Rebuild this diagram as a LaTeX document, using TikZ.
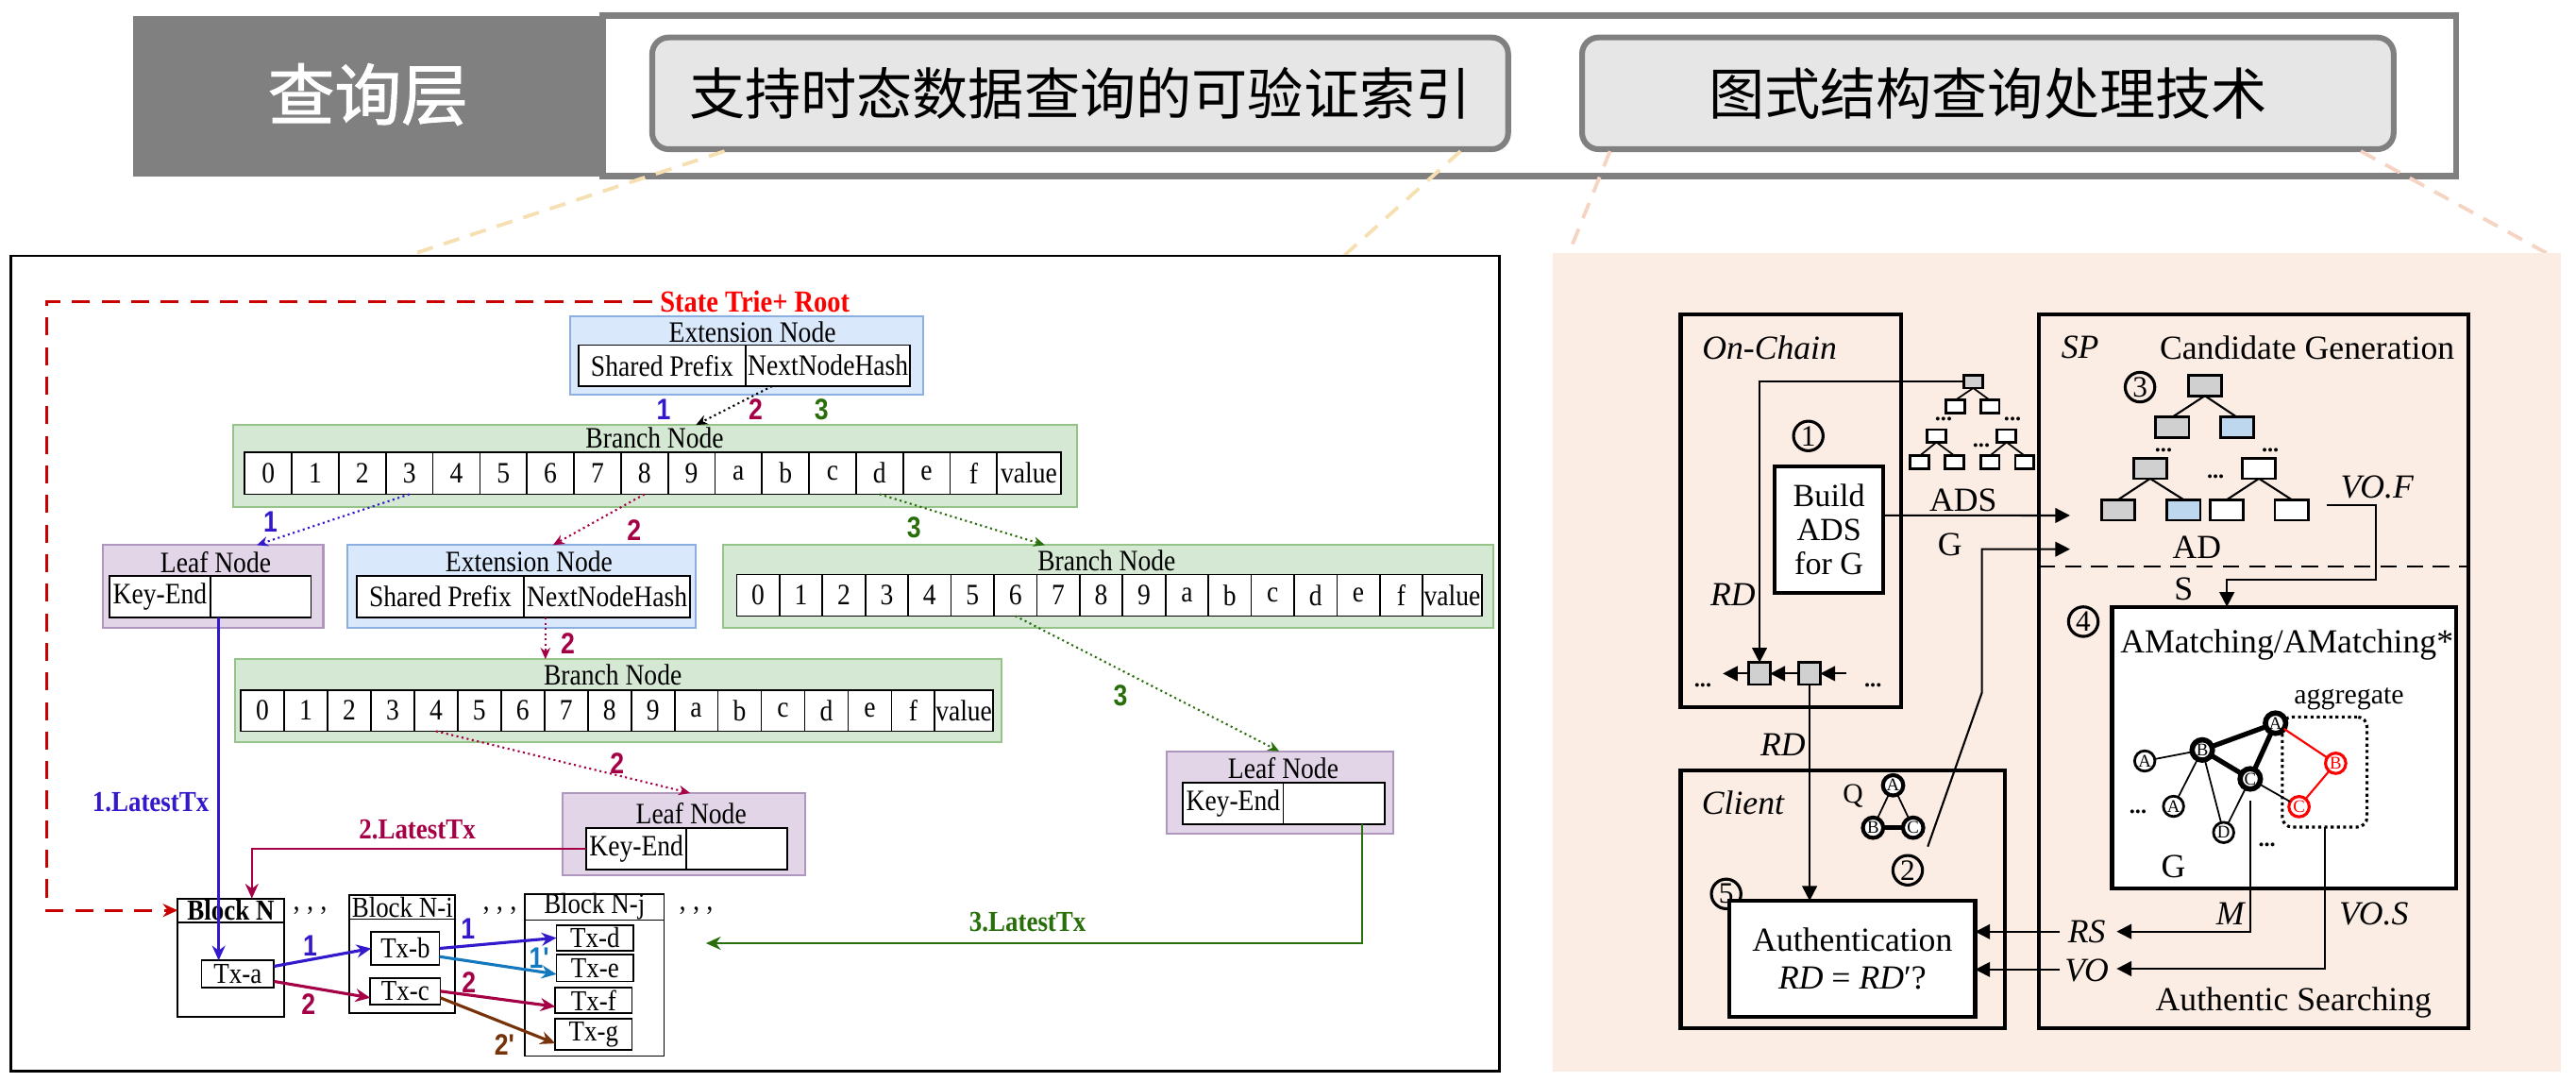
\documentclass[tikz,border=0pt]{standalone}
\usepackage{fontspec}
\setmainfont{Liberation Serif}
\setsansfont{Liberation Sans}
\newfontfamily\lserif{Liberation Serif}[FakeStretch=0.88]
\newfontfamily\lsans{Liberation Sans}[FakeStretch=0.85]
\newfontfamily\cjk{Noto Sans CJK SC}
\newfontfamily\cjkb{Noto Sans CJK SC}[FakeBold=1.5]
\usetikzlibrary{arrows.meta,fit}
\definecolor{hdrgray}{RGB}{128,128,128}
\definecolor{hboxfill}{RGB}{230,230,230}
\definecolor{wheatc}{RGB}{246,224,178}
\definecolor{salmonc}{RGB}{246,212,196}
\definecolor{peach}{RGB}{252,237,228}
\definecolor{bfill}{RGB}{218,232,252}
\definecolor{bdraw}{RGB}{140,175,225}
\definecolor{gfill}{RGB}{213,232,212}
\definecolor{gdraw}{RGB}{150,195,135}
\definecolor{pfill}{RGB}{225,213,231}
\definecolor{pdraw}{RGB}{175,150,190}
\definecolor{tblue}{RGB}{51,25,204}
\definecolor{tred}{RGB}{165,0,70}
\definecolor{tgreen}{RGB}{40,110,10}
\definecolor{tteal}{RGB}{20,120,190}
\definecolor{tbrown}{RGB}{120,50,10}
\definecolor{dred}{RGB}{200,0,0}
\definecolor{tgray}{RGB}{208,208,208}
\definecolor{tlblue}{RGB}{189,215,238}
\newcommand\LFont{\lserif\fontsize{9}{10.8}\selectfont}
\newcommand\RFont{\fontsize{10.25}{12.3}\selectfont}
\newcommand\btable[6]{%
  \foreach \i/\lbl in {0/0,1/1,2/2,3/3,4/4,5/5,6/6,7/7,8/8,9/9,10/a,11/b,12/c,13/d,14/e,15/f}{%
    \node[cellbox, minimum width=#4*0.5pt, minimum height=#6*0.5pt] (#1c\i) at ({#2+(\i+0.5)*#4},#3) {\lbl};}
  \node[cellbox, minimum width=#5*0.5pt, minimum height=#6*0.5pt] (#1cv) at ({#2+16*#4+0.5*#5},#3) {value};
}
\begin{document}
\begin{tikzpicture}[x=0.5pt,y=-0.5pt,
  every node/.style={inner sep=0pt, outer sep=0pt},
  cellbox/.style={draw=black, fill=white, line width=0.5pt, font=\LFont},
  gbox/.style={draw=gdraw, fill=gfill, line width=0.6pt},
  bbox/.style={draw=bdraw, fill=bfill, line width=0.6pt},
  pbox/.style={draw=pdraw, fill=pfill, line width=0.6pt},
  ttl/.style={font=\LFont},
  num/.style={font=\lsans\bfseries\fontsize{9}{10}\selectfont},
  latlab/.style={font=\lserif\bfseries\fontsize{8.8}{10}\selectfont},
  dotarr/.style={densely dotted, line width=0.6pt, -{Stealth[length=3.5pt,width=3pt]}},
  txarr/.style={line width=0.9pt, -{Stealth[length=4.5pt,width=4pt]}},
  latest/.style={line width=0.7pt, -{Stealth[length=4.5pt,width=4pt]}},
  txbox/.style={draw=black, fill=white, line width=0.5pt, font=\lserif\fontsize{8.8}{10}\selectfont},
  blk/.style={draw=black, fill=white, line width=0.5pt, font=\lserif\fontsize{8.8}{10}\selectfont},
  rbox/.style={draw=black, line width=1.2pt},
  rt/.style={font=\RFont},
  rit/.style={font=\RFont\itshape},
  rarr/.style={line width=0.6pt, -{Triangle[length=4.5pt,width=4.5pt]}},
  sq/.style={draw=black, line width=0.8pt, fill=white},
  cnum/.style={circle, draw=black, line width=0.9pt, minimum size=9pt, font=\fontsize{9}{9}\selectfont},
  gn/.style={circle, draw=black, line width=0.8pt, fill=white, minimum size=6.2pt, font=\fontsize{5.4}{5.5}\selectfont},
  gnr/.style={gn, draw=red, text=red, line width=0.9pt},
  dots/.style={font=\bfseries\fontsize{7}{7}\selectfont},
]
\useasboundingbox (0,0) rectangle (1568,658);

% ---------- header ----------
\draw[hdrgray, line width=2pt] (367,9.7) rectangle (1495,107);
\fill[hdrgray] (81,9.5) rectangle (367,107.5);
\node[font=\cjkb\fontsize{20.3}{22}\selectfont, text=white] (qlayer) at (224,57.5) {查询层};
\node[draw=hdrgray, fill=hboxfill, line width=1.75pt, rounded corners=5pt, minimum width=260.5pt, minimum height=34pt,
      font=\cjk\fontsize{17}{18}\selectfont] (h1) at (657.5,56.8) {支持时态数据查询的可验证索引};
\node[draw=hdrgray, fill=hboxfill, line width=1.75pt, rounded corners=5pt, minimum width=247pt, minimum height=34pt,
      font=\cjk\fontsize{17}{18}\selectfont] (h2) at (1210,56.8) {图式结构查询处理技术};

% connectors header -> panels
\coordinate (y1a) at (441,92); \coordinate (y1b) at (248,155.7);
\coordinate (y2a) at (889,92); \coordinate (y2b) at (818,155.7);
\coordinate (s1a) at (980,92); \coordinate (s1b) at (955,154);
\coordinate (s2a) at (1437,92); \coordinate (s2b) at (1550,154);
\draw[wheatc, line width=1.1pt, dash pattern=on 5pt off 3.5pt] (y1a) -- (y1b);
\draw[wheatc, line width=1.1pt, dash pattern=on 5pt off 3.5pt] (y2a) -- (y2b);
\draw[salmonc, line width=1.1pt, dash pattern=on 5pt off 3.5pt] (s1a) -- (s1b);
\draw[salmonc, line width=1.1pt, dash pattern=on 5pt off 3.5pt] (s2a) -- (s2b);

% ---------- panels ----------
\node[draw=black, line width=0.8pt, fill=white, fit={(6.6,155.7) (912.5,652)}] (lp) {};
\node[fill=peach, fit={(945,154) (1559,652)}] (rp) {};

% ---------- left panel: trie ----------
\node[font=\lserif\bfseries\fontsize{9.3}{10}\selectfont, text=red] (st) at (459.5,183.5) {State Trie+ Root};

\node[bbox, fit={(347,192.5) (562,240)}] (e1) {};
\node[ttl] (e1t) at (458,202) {Extension Node};
\node[cellbox, minimum width=51pt, minimum height=12.5pt] (e1a) at (403,222.5) {Shared Prefix};
\node[cellbox, minimum width=50pt, minimum height=12.5pt] (e1b) at (504,222.5) {NextNodeHash};

\node[num, text=tblue] (k1) at (404,249) {1};
\node[num, text=tred] (k2) at (460,249) {2};
\node[num, text=tgreen] (k3) at (500,249) {3};

\node[gbox, fit={(142,258.6) (655.5,308.5)}] (b1) {};
\node[ttl] (b1t) at (398.5,266.2) {Branch Node};
\btable{b1}{149}{287.9}{28.62}{38.7}{25.7}

\node[pbox, fit={(62.5,331.7) (196.8,382)}] (l1) {};
\node[ttl] (l1t) at (131.3,342) {Leaf Node};
\node[cellbox, minimum width=30.65pt, minimum height=12.65pt] (l1a) at (97.35,363.15) {Key-End};
\node[cellbox, minimum width=30.65pt, minimum height=12.65pt] (l1b) at (158.65,363.15) {};

\node[bbox, fit={(211.6,331.7) (423.7,382)}] (e2) {};
\node[ttl] (e2t) at (322,342) {Extension Node};
\node[cellbox, minimum width=51pt, minimum height=12.65pt] (e2a) at (268,363.15) {Shared Prefix};
\node[cellbox, minimum width=50.5pt, minimum height=12.65pt] (e2b) at (369.5,363.15) {NextNodeHash};

\node[gbox, fit={(440.3,331.7) (908.9,382)}] (b2) {};
\node[ttl] (b2t) at (673.6,341) {Branch Node};
\btable{b2}{448.4}{362.2}{26.1}{36}{25.3}

\node[gbox, fit={(143,401.2) (609.6,451.4)}] (b3) {};
\node[ttl] (b3t) at (373,410.8) {Branch Node};
\btable{b3}{146.6}{432.4}{26.4}{35.4}{25.1}

\node[pbox, fit={(342.6,482.6) (490.2,532.8)}] (l2) {};
\node[ttl] (l2t) at (420.7,494.8) {Leaf Node};
\node[cellbox, minimum width=30.35pt, minimum height=12.45pt] (l2a) at (387.35,516.55) {Key-End};
\node[cellbox, minimum width=30.7pt, minimum height=12.45pt] (l2b) at (448.4,516.55) {};

\node[pbox, fit={(710.2,457.2) (847.9,507.2)}] (l3) {};
\node[ttl] (l3t) at (781.1,467.3) {Leaf Node};
\node[cellbox, minimum width=30.5pt, minimum height=12.55pt] (l3a) at (750.6,488.85) {Key-End};
\node[cellbox, minimum width=30.8pt, minimum height=12.55pt] (l3b) at (811.9,488.85) {};

% trie arrows
\coordinate (e1o) at (470,235);
\coordinate (b1i) at (423.6,258.6);
\draw[dotarr, black] (e1o) -- (b1i);
\coordinate (l1i) at (156.3,331.7);
\draw[dotarr, tblue] (b1c3.south) -- (l1i);
\node[num, text=tblue] (k4) at (164.7,317.8) {1};
\coordinate (e2i) at (336.6,331.7);
\draw[dotarr, tred] (b1c8.south) -- (e2i);
\node[num, text=tred] (k5) at (386,322.7) {2};
\coordinate (b2i) at (636,331.7);
\draw[dotarr, tgreen] (b1c13.south) -- (b2i);
\node[num, text=tgreen] (k6) at (556.4,320.8) {3};
\coordinate (e2o) at (332,375.8);
\draw[dotarr, tred] (e2o) -- (e2o |- b3.north);
\node[num, text=tred] (k7) at (345.6,391.7) {2};
\coordinate (l2i) at (420.1,482.6);
\draw[dotarr, tred] (b3c4.south) -- (l2i);
\node[num, text=tred] (k8) at (375.7,464.4) {2};
\coordinate (l3i) at (778.7,457.2);
\draw[dotarr, tgreen] (b2c6.south) -- (l3i);
\node[num, text=tgreen] (k9) at (682,423.3) {3};

% ---------- blocks ----------
\node[blk, minimum width=32.3pt, minimum height=36.1pt] (bN) at (140.5,582.9) {};
\node[blk, minimum width=32.3pt, minimum height=7.2pt, font=\lserif\bfseries\fontsize{8.8}{10}\selectfont] (bNh) at (140.5,554) {Block N};
\node[blk, minimum width=32.15pt, minimum height=36.1pt] (bi) at (244.95,580.6) {};
\node[blk, minimum width=32.15pt, minimum height=7.4pt] (bih) at (244.95,551.9) {Block N-i};
\node[blk, minimum width=42.35pt, minimum height=49.05pt] (bj) at (361.85,593.55) {};
\node[blk, minimum width=42.35pt, minimum height=7.4pt] (bjh) at (361.85,551.9) {Block N-j};

\node[txbox, minimum width=22.1pt, minimum height=8.15pt] (txa) at (144.7,592.65) {Tx-a};
\node[txbox, minimum width=20.75pt, minimum height=9.85pt] (txb) at (246.75,577.15) {Tx-b};
\node[txbox, minimum width=21.3pt, minimum height=8.1pt] (txc) at (246.7,603.2) {Tx-c};
\node[txbox, minimum width=23.45pt, minimum height=7.65pt] (txd) at (362.15,570.75) {Tx-d};
\node[txbox, minimum width=23.45pt, minimum height=8.15pt] (txe) at (362.15,589.05) {Tx-e};
\node[txbox, minimum width=23.35pt, minimum height=7.95pt] (txf) at (361.35,608.75) {Tx-f};
\node[txbox, minimum width=23.35pt, minimum height=9.55pt] (txg) at (361.35,629.55) {Tx-g};

\node[font=\LFont] (q1) at (188.7,558) {’\,’\,’};
\node[font=\LFont] (q2) at (304.1,558) {’\,’\,’};
\node[font=\LFont] (q3) at (423.7,558) {’\,’\,’};

\draw[txarr, tblue] ([yshift=2.3pt]txa.east) -- (txb.west);
\node[num, text=tblue] (m1) at (188.7,575.5) {1};
\draw[txarr, tred] ([yshift=-2.3pt]txa.east) -- ([yshift=-2pt]txc.west);
\node[num, text=tred] (m2) at (187.8,611) {2};
\draw[txarr, tblue] (txb.east) -- (txd.west);
\node[num, text=tblue] (m3) at (284.9,565) {1};
\draw[txarr, tteal] ([yshift=-2.5pt]txb.east) -- ([yshift=-1.9pt]txe.west);
\node[num, text=tteal] (m4) at (328.2,583.2) {1'};
\draw[txarr, tred] (txc.east) -- ([yshift=-1.9pt]txf.west);
\node[num, text=tred] (m5) at (285.5,597.6) {2};
\draw[txarr, tbrown] ([yshift=-2pt]txc.east) -- ([yshift=-2.7pt]txg.west);
\node[num, text=tbrown] (m6) at (307.1,635.9) {2'};

% LatestTx arrows
\coordinate (l1o) at (133.1,376);
\draw[latest, tblue] (l1o) -- (l1o |- txa.north);
\node[latlab, text=tblue] (lt1) at (91.7,488.4) {1.LatestTx};
\coordinate (c2) at (153.3,516.55);
\draw[latest, tred] (l2a.west) -- (c2) -- (c2 |- bNh.north);
\node[latlab, text=tred] (lt2) at (254,504.7) {2.LatestTx};
\coordinate (l3o) at (829.2,501.4);
\coordinate (g3e) at (429.7,574);
\draw[latest, tgreen] (l3o) |- (g3e);
\node[latlab, text=tgreen] (lt3) at (625.5,561.2) {3.LatestTx};

% red dashed root link
\coordinate (rc) at (28.5,183.5);
\draw[dred, line width=0.8pt, dash pattern=on 5.5pt off 3.5pt, -{Stealth[length=4.5pt,width=4pt]}, shorten <=2.5pt]
  (st.west) -- (rc) |- (bNh.west);

% ---------- right panel ----------
\node[rbox, fit={(1023,191.1) (1157.2,430.4)}] (oc) {};
\node[rbox, fit={(1240.9,191.1) (1502.6,625.9)}] (sp) {};
\node[rbox, fit={(1023,468.9) (1220.2,625.9)}] (cl) {};
\node[rbox, fill=white, fit={(1080.4,283.8) (1146.2,360.7)}] (bu) {};
\node[cnum] (n5) at (1050.7,544) {5};
\node[rbox, fill=white, fit={(1052.7,548.2) (1202.3,618.6)}] (au) {};
\node[rbox, fill=white, fit={(1285.6,369.3) (1494.9,540.5)}] (am) {};

\coordinate (dl) at (1240.9,344.8);
\draw[line width=0.8pt, dash pattern=on 5pt off 3pt] (dl) -- (dl -| sp.east);

\node[rit] (tOC) at (1077.1,211.6) {On-Chain};
\node[rit] (tSP) at (1266.1,211.6) {SP};
\node[rt] (tCG) at (1404.3,211.6) {Candidate Generation};
\node[rit] (tCl) at (1060.9,488.4) {Client};
\node[align=center, font=\fontsize{9.8}{10.25}\selectfont] (tBu) at (bu.center) {Build\\ADS\\for G};
\node[align=center, font=\fontsize{10.25}{11.5}\selectfont] (tAu) at (au.center) {Authentication\\\textit{RD} = \textit{RD}′?};
\node[rt] (tAM) at (1392,392.6) {AMatching/AMatching*};
\node[rt] (tAS) at (1396.1,610) {Authentic Searching};

\node[cnum] (n1) at (1100.7,265.3) {1};
\node[cnum] (n2) at (1161.2,529.6) {2};
\node[cnum] (n3) at (1302.6,235.6) {3};
\node[cnum] (n4) at (1268.1,378.3) {4};

% small ADS tree
\node[sq, fill=tgray, minimum width=5.7pt, minimum height=3.85pt] (t0) at (1201.1,232.3) {};
\node[sq, minimum width=5.7pt, minimum height=3.85pt] (t1) at (1190.1,247.4) {};
\node[sq, minimum width=5.7pt, minimum height=3.85pt] (t2) at (1211.2,247.4) {};
\node[sq, minimum width=5.7pt, minimum height=3.85pt] (t3) at (1178.7,265.3) {};
\node[sq, minimum width=5.7pt, minimum height=3.85pt] (t4) at (1221.4,265.3) {};
\node[sq, minimum width=5.7pt, minimum height=3.85pt] (t5) at (1168.5,281.2) {};
\node[sq, minimum width=5.7pt, minimum height=3.85pt] (t6) at (1189.7,281.2) {};
\node[sq, minimum width=5.7pt, minimum height=3.85pt] (t7) at (1211.2,281.2) {};
\node[sq, minimum width=5.7pt, minimum height=3.85pt] (t8) at (1232.4,281.2) {};
\draw[line width=0.5pt] (t0.south) -- (t1.north) (t0.south) -- (t2.north)
  (t3.south) -- (t5.north) (t3.south) -- (t6.north) (t4.south) -- (t7.north) (t4.south) -- (t8.north);
\node[dots] (d1) at (1183,255) {...};
\node[dots] (d2) at (1225,255) {...};
\node[dots] (d3) at (1206,271) {...};

% block chain
\node[sq, fill=tgray, minimum width=6.5pt, minimum height=6.7pt] (r1) at (1071,409.9) {};
\node[sq, fill=tgray, minimum width=6.5pt, minimum height=6.7pt] (r2) at (1101.5,409.9) {};
\coordinate (cl1) at (1048.7,409.9);
\coordinate (cr1) at (1123.9,409.9);
\draw[rarr] (r1.west) -- (cl1);
\draw[rarr] (r2.west) -- (r1.east);
\draw[rarr] (cr1) -- (r2.east);
\node[dots] (d4) at (1036.5,417) {...};
\node[dots] (d5) at (1140.1,417) {...};

\draw[rarr] (t0.west) -| (r1.north);
\node[rit] (tRD1) at (1054.8,362) {RD};
\draw[rarr] (r2.south) -- (r2.south |- au.north);
\node[rit] (tRD2) at (1085.3,453) {RD};

% ADS and G arrows
\coordinate (adse) at (1260,313.7);
\draw[rarr] ([yshift=4.3pt]bu.east) -- (adse);
\node[rt] (tADS) at (1195,304.5) {ADS};
\coordinate (gs) at (1173.4,515.2);
\coordinate (gm) at (1206.4,421.4);
\coordinate (ge) at (1260,334.2);
\draw[rarr] (gs) -- (gm) |- (ge);
\node[rt] (tG) at (1186.9,331.3) {G};

% SP tree
\node[sq, fill=tgray, minimum width=10.15pt, minimum height=6.25pt] (s0) at (1342.1,234.6) {};
\node[sq, fill=tgray, minimum width=10.15pt, minimum height=6.25pt] (s1) at (1322.2,260.1) {};
\node[sq, fill=tlblue, minimum width=10.15pt, minimum height=6.25pt] (s2) at (1361.6,260.1) {};
\node[sq, fill=tgray, minimum width=10.15pt, minimum height=6.25pt] (s3) at (1308.8,285) {};
\node[sq, minimum width=10.15pt, minimum height=6.25pt] (s4) at (1375,285) {};
\node[sq, fill=tgray, minimum width=10.15pt, minimum height=6.25pt] (s5) at (1289.3,310.3) {};
\node[sq, fill=tlblue, minimum width=10.15pt, minimum height=6.25pt] (s6) at (1329.1,310.3) {};
\node[sq, minimum width=10.15pt, minimum height=6.25pt] (s7) at (1355.5,310.3) {};
\node[sq, minimum width=10.15pt, minimum height=6.25pt] (s8) at (1394.9,310.3) {};
\draw[line width=0.6pt] (s0.south) -- (s1.north) (s0.south) -- (s2.north)
  (s3.south) -- (s5.north) (s3.south) -- (s6.north) (s4.south) -- (s7.north) (s4.south) -- (s8.north);
\node[dots] (d6) at (1316.9,274) {...};
\node[dots] (d7) at (1381.9,274) {...};
\node[dots] (d8) at (1348.6,290) {...};
\node[rt] (tAD) at (1337.2,333.3) {AD};
\node[rit] (tVOF) at (1446.9,296.5) {VO.F};
\coordinate (vofs) at (1416.4,307.4);
\coordinate (vofc) at (1446.1,352.8);
\coordinate (vofa) at (1355.5,352.8);
\draw[rarr] (vofs) -| (vofc) -- (vofa) -- (vofa |- am.north);
\node[rt] (tS) at (1329.1,358.2) {S};

% graph G
\node[font=\fontsize{8.6}{9}\selectfont] (tagg) at (1429.8,425.2) {aggregate};
\node[draw, densely dotted, line width=0.9pt, rounded corners=3pt, fit={(1389.2,436.3) (1440.8,503.3)}] (agg) {};
\node[gn, line width=1.6pt] (gA) at (1385.1,440.1) {A};
\node[gn, line width=1.6pt] (gB) at (1340.5,456.4) {B};
\node[gn] (gA2) at (1305.5,463.1) {A};
\node[gn, line width=1.6pt] (gC) at (1369.7,474.0) {C};
\node[gn] (gA3) at (1323,490.7) {A};
\node[gn] (gD) at (1353.5,506.6) {D};
\node[gnr] (rB) at (1421.7,464.5) {B};
\node[gnr] (rC) at (1399.4,490.9) {C};
\draw[line width=1.5pt] (gA) -- (gB) (gA) -- (gC) (gB) -- (gC);
\draw[line width=0.5pt] (gB) -- (gA2) (gB) -- (gA3) (gB) -- (gD) (gC) -- (gD) (gC) -- (rC);
\draw[red, line width=0.6pt] (gA) -- (rB) -- (rC);
\node[dots] (d9) at (1301.4,494) {...};
\node[dots] (d10) at (1379.9,514) {...};
\node[rt] (tGG) at (1323,527.6) {G};

\coordinate (ms) at (1369.7,487.4);
\coordinate (rse) at (1288.4,566.9);
\draw[rarr] (ms) |- (rse);
\coordinate (voe) at (1288.4,589.5);
\draw[rarr] (agg.south) |- (voe);
\node[rit] (tM) at (1357.5,556) {M};
\node[rit] (tVOS) at (1444.9,556) {VO.S};
\node[rit] (tRS) at (1270.2,567.3) {RS};
\node[rit] (tVO) at (1270.2,590.9) {VO};
\coordinate (rss) at (1253.9,567);
\draw[rarr] (rss) -- (rss -| au.east);
\coordinate (vos) at (1253.9,590);
\draw[rarr] (vos) -- (vos -| au.east);

% Q graph
\node[font=\fontsize{8.5}{9}\selectfont] (tQ) at (1127.9,484.6) {Q};
\node[gn, line width=1.2pt] (qA) at (1152.3,477.9) {A};
\node[gn, line width=1.2pt] (qB) at (1140.1,503.7) {B};
\node[gn, line width=1.2pt] (qC) at (1164.5,503.7) {C};
\draw[line width=0.5pt] (qA) -- (qB) (qA) -- (qC);
\draw[line width=1.5pt] (qB) -- (qC);
\end{tikzpicture}
\end{document}
